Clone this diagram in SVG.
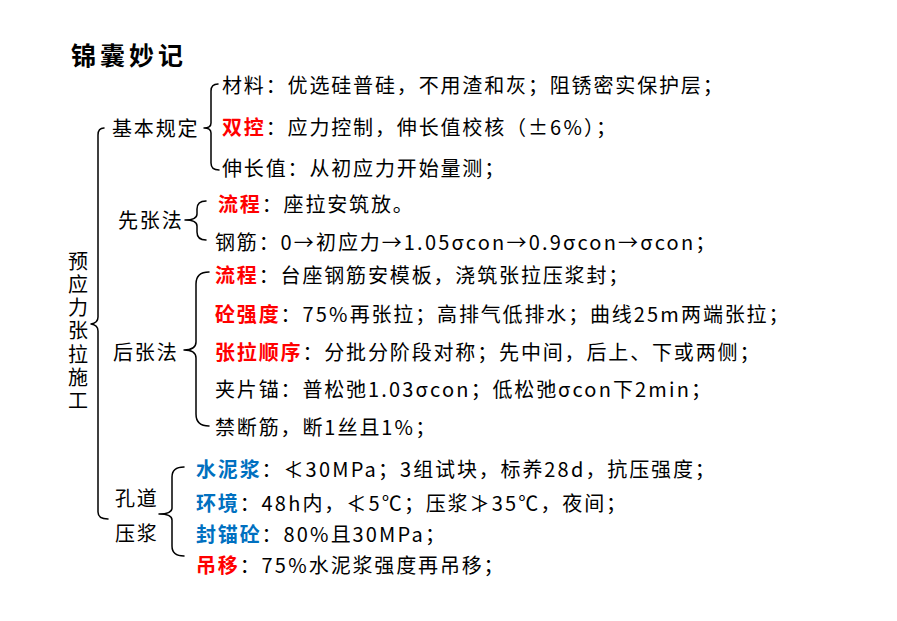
<svg xmlns="http://www.w3.org/2000/svg" width="897" height="621" viewBox="0 0 897 621">
<style>
text{font-family:"Noto Sans CJK SC","Noto Sans",sans-serif;font-size:20px;fill:#000;letter-spacing:1.85px;dominant-baseline:central}
.title{font-size:25px;font-weight:bold;letter-spacing:4px}
.r{fill:#FF0000;font-weight:bold}
.b{fill:#0070C0;font-weight:bold}
.n{letter-spacing:2.2px}
.br{fill:none;stroke:#000;stroke-width:1.5;stroke-linecap:round;stroke-linejoin:round}
.v{writing-mode:vertical-rl;letter-spacing:3.3px;dominant-baseline:auto}
</style>
<rect width="897" height="621" fill="#fff"/>
<g id="title"><text class="title" x="71" y="54">锦囊妙记</text></g>
<g id="connectors">
<path class="br" d="M104,128 Q98,128 98,135 L98,317 Q98,323 91,324 Q98,325 98,331 L98,512 Q98,519 108,519"/>
<path class="br" d="M218,84 Q211,84 211,91 L211,123 Q211,128 204,128 Q211,128 211,133 L211,163 Q211,170 219,170"/>
<path class="br" d="M206,201 Q197,201 197,209 L197,214 Q197,220 185,220 Q197,220 197,226 L197,232 Q197,240 206,240"/>
<path class="br" d="M209,272 Q196,272 196,284 L196,342 Q196,350 184,350 Q196,350 196,358 L196,414 Q196,426 209,426"/>
<path class="br" d="M184,467 Q172,467 172,477 L172,508 Q172,514 159,514 Q172,514 172,520 L172,546 Q172,556 184,556"/>
</g>
<g id="root"><text class="v" x="78" y="251">预应力张拉施工</text></g>
<g id="basic"><text x="112" y="127">基本规定</text></g>
<g id="pretension"><text x="118" y="219">先张法</text></g>
<g id="posttension"><text x="113" y="351">后张法</text></g>
<g id="grouting"><text x="115" y="497">孔道</text><text x="115" y="532">压浆</text></g>
<g id="b1"><text x="222" y="84">材料：优选硅普硅，不用渣和灰；阻锈密实保护层；</text></g>
<g id="b2"><text x="222" y="126"><tspan class="r">双控</tspan>：应力控制，伸长值校核（<tspan class="n">±6%</tspan>）；</text></g>
<g id="b3"><text x="222" y="167">伸长值：从初应力开始量测；</text></g>
<g id="p1"><text x="218" y="203"><tspan class="r">流程</tspan>：座拉安筑放。</text></g>
<g id="p2"><text x="215" y="241">钢筋：<tspan class="n">0→</tspan>初应力<tspan class="n">→1.05σcon→0.9σcon→σcon</tspan>；</text></g>
<g id="q1"><text x="215" y="274"><tspan class="r">流程</tspan>：台座钢筋安模板，浇筑张拉压浆封；</text></g>
<g id="q2"><text x="215" y="313"><tspan class="r">砼强度</tspan>：<tspan class="n">75%</tspan>再张拉；高排气低排水；曲线<tspan class="n">25m</tspan>两端张拉；</text></g>
<g id="q3"><text x="215" y="351"><tspan class="r">张拉顺序</tspan>：分批分阶段对称；先中间，后上、下或两侧；</text></g>
<g id="q4"><text x="215" y="388">夹片锚：普松弛<tspan class="n">1.03σcon</tspan>；低松弛<tspan class="n">σcon</tspan>下<tspan class="n">2min</tspan>；</text></g>
<g id="q5"><text x="215" y="426">禁断筋，断<tspan class="n">1</tspan>丝且<tspan class="n">1%</tspan>；</text></g>
<g id="g1"><text x="196" y="468"><tspan class="b">水泥浆</tspan>：<tspan class="n">≮30MPa</tspan>；<tspan class="n">3</tspan>组试块，标养<tspan class="n">28d</tspan>，抗压强度；</text></g>
<g id="g2"><text x="196" y="502"><tspan class="b">环境</tspan>：<tspan class="n">48h</tspan>内，<tspan class="n">≮5℃</tspan>；压浆<tspan class="n">≯35℃</tspan>，夜间；</text></g>
<g id="g3"><text x="196" y="533"><tspan class="b">封锚砼</tspan>：<tspan class="n">80%</tspan>且<tspan class="n">30MPa</tspan>；</text></g>
<g id="g4"><text x="196" y="564"><tspan class="r">吊移</tspan>：<tspan class="n">75%</tspan>水泥浆强度再吊移；</text></g>
</svg>
